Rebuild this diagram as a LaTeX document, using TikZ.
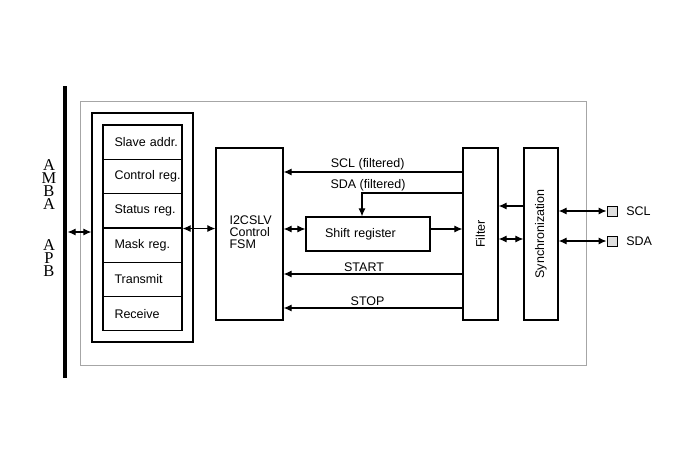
\documentclass[tikz,border=0pt]{standalone}
\usepackage{fontspec}
\setmainfont{Liberation Sans}
\newfontfamily\busfont{Liberation Serif}
\usepackage{graphicx}
\usetikzlibrary{arrows.meta,positioning}

\tikzset{
  box/.style={draw, line width=1.2pt, inner sep=0pt},
  reg/.style={box, minimum width=79pt, minimum height=34.3pt, text width=56pt, align=left, inner xsep=11.5pt},
  pinbox/.style={draw, line width=0.9pt, fill=gray!25, minimum size=10pt, inner sep=0pt},
  lab/.style={above, inner sep=1.5pt, pos=0.53}
}

\begin{document}
\begin{tikzpicture}[x=1pt, y=-1pt, >={Latex[length=8pt,width=7pt]}, line width=1.1pt,
  node distance=34.3pt, font=\fontsize{12.5}{12}\selectfont]
  \useasboundingbox (0,0) rectangle (700,470);
  \draw[gray!70, line width=1pt] (80,102) rectangle (586,365);
  \node[fill, minimum width=4pt, minimum height=292pt, inner sep=0pt] (APB) at (65,232) {};
  \node[font=\busfont\fontsize{16.5}{13.2}\selectfont, align=center, inner sep=0pt] (T) at (49,218)
    {A\\M\\B\\A\\[27pt]A\\P\\B};
  \node[box, minimum width=101pt, minimum height=229pt] (REG) at (142.5,227.5) {};
  \node[reg] (R1) at (142.5,142.2) {Slave~addr.};
  \node[reg] (R2) [below of = R1] {Control~reg.};
  \node[reg] (R3) [below of = R2] {Status~reg.};
  \node[reg] (R4) [below of = R3] {Mask~reg.};
  \node[reg] (R5) [below of = R4] {Transmit};
  \node[reg] (R6) [below of = R5] {Receive};
  \node[box, minimum width=67pt, minimum height=172pt] (FSM) at (249.5,234) {};
  \node[align=left, inner sep=0pt, anchor=west] (FT) at (229,232)
    {I2CSLV\\Control\\FSM};
  \node[box, minimum width=124pt, minimum height=34pt, text width=100pt, inner xsep=12pt, align=left] (SR) at (368,234) {\hspace*{7pt}Shift register};
  \node[box, minimum width=35pt, minimum height=172pt] (FIL) at (480.5,234) {\rotatebox{90}{Filter}};
  \node[box, minimum width=34pt, minimum height=172pt] (SYN) at (541,234) {\rotatebox{90}{Synchronization}};
  \node[pinbox, label={[label distance=5pt]right:SCL}] (PSCL) at (612,211) {};
  \node[pinbox, label={[label distance=5pt]right:SDA}] (PSDA) at (612,241) {};
  \draw[<->] (APB.east) -- (APB.east -| REG.west);
  \draw[<->] (R3.south east) -- (R3.south east -| FSM.west);
  \draw[->] ([yshift=62pt]FIL.west) -- ([yshift=62pt]FSM.east) node[lab] {SCL (filtered)};
  \draw[->] ([yshift=41pt]FIL.west) -| ([xshift=-6pt]SR.north) node[lab, pos=0.47] {SDA (filtered)};
  \draw[<->] ([yshift=5pt]FSM.east) -- ([yshift=5pt]SR.west);
  \draw[->] ([yshift=5pt]SR.east) -- ([yshift=5pt]FIL.west);
  \draw[->] ([yshift=-40pt]FIL.west) -- ([yshift=-40pt]FSM.east) node[lab, pos=0.55] {START};
  \draw[->] ([yshift=-74pt]FIL.west) -- ([yshift=-74pt]FSM.east) node[lab] {STOP};
  \draw[->] ([yshift=28pt]SYN.west) -- ([yshift=28pt]FIL.east);
  \draw[<->] ([yshift=-5pt]FIL.east) -- ([yshift=-5pt]SYN.west);
  \draw[<->] (SYN.east |- PSCL) -- (PSCL);
  \draw[<->] (SYN.east |- PSDA) -- (PSDA);
\end{tikzpicture}
\end{document}
